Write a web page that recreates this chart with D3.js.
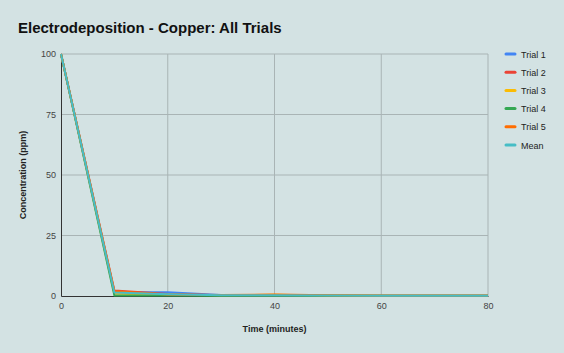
<!DOCTYPE html>
<html>
<head>
<meta charset="utf-8">
<script src="https://cdn.jsdelivr.net/npm/d3@7"></script>
<style>
  body { margin: 0; background: #d3e2e3; }
  svg { display: block; font-family: "Liberation Sans", Arial, sans-serif; }
</style>
</head>
<body>
<div id="chart"></div>
<script>
// times in minutes, concentration in ppm
var times = [0, 10, 20, 30, 40, 50, 60, 70, 80];
var trial1 = [100, 1.6, 1.5, 0.4, 0.2, 0.1, 0.1, 0.1, 0.1];
var trial2 = [100, 2.3, 0.8, 0.3, 0.2, 0.1, 0.1, 0.1, 0.1];
var trial3 = [100, 1.0, 0.5, 0.3, 0.5, 0.2, 0.1, 0.1, 0.1];
var trial4 = [100, 0.2, 0.2, 0.1, 0.1, 0.1, 0.1, 0.1, 0.1];
var trial5 = [100, 2.0, 0.6, 0.4, 0.6, 0.3, 0.1, 0.1, 0.1];
var mean = [100, 1.4, 0.7, 0.3, 0.3, 0.2, 0.1, 0.1, 0.1];
var seriesNames = ['Trial 1', 'Trial 2', 'Trial 3', 'Trial 4', 'Trial 5', 'Mean'];
var xTicks = [0, 20, 40, 60, 80];
var yTicks = [0, 25, 50, 75, 100];

var series = [trial1, trial2, trial3, trial4, trial5, mean].map(function(vals, i) {
  return { name: seriesNames[i], values: vals.map(function(v, j) { return { t: times[j], c: v }; }) };
});

var width = 564, height = 353;
var color = d3.scaleOrdinal()
  .domain(seriesNames)
  .range(['#4285f4', '#ea4335', '#fbbc04', '#34a853', '#ff6d01', '#46bdc6']);

var x = d3.scaleLinear().domain([0, 80]).range([61, 488]);
var y = d3.scaleLinear().domain([0, 100]).range([296, 54]);

var svg = d3.select('#chart').append('svg')
  .attr('width', width)
  .attr('height', height);

svg.append('rect')
  .attr('width', width).attr('height', height)
  .attr('fill', '#d3e2e3');

svg.append('text')
  .attr('x', 18).attr('y', 33)
  .attr('font-size', 15).attr('font-weight', 'bold')
  .attr('fill', '#111')
  .text('Electrodeposition - Copper: All Trials');

// grid
var grid = svg.append('g');
grid.selectAll('.gy').data(yTicks.slice(1)).enter().append('line')
  .attr('x1', x(0)).attr('x2', x(80))
  .attr('y1', function(d) { return y(d); }).attr('y2', function(d) { return y(d); })
  .attr('stroke', '#a9b4b5').attr('stroke-width', 1);
grid.selectAll('.gx').data(xTicks.slice(1)).enter().append('line')
  .attr('y1', y(0)).attr('y2', y(100))
  .attr('x1', function(d) { return x(d); }).attr('x2', function(d) { return x(d); })
  .attr('stroke', '#a9b4b5').attr('stroke-width', 1);

// axes
var xAxis = svg.append('g')
  .attr('transform', 'translate(0,' + y(0) + ')')
  .call(d3.axisBottom(x).tickValues(xTicks).tickSize(0).tickPadding(7));
var yAxis = svg.append('g')
  .attr('transform', 'translate(' + x(0) + ',0)')
  .call(d3.axisLeft(y).tickValues(yTicks).tickSize(0).tickPadding(5));
[xAxis, yAxis].forEach(function(a) {
  a.select('.domain').attr('stroke', '#333');
  a.selectAll('text').attr('font-size', 9).attr('fill', '#444')
    .attr('font-family', '"Liberation Sans", Arial, sans-serif');
});

svg.append('text')
  .attr('x', (x(0) + x(80)) / 2).attr('y', 332)
  .attr('text-anchor', 'middle')
  .attr('font-size', 9).attr('font-weight', 'bold').attr('fill', '#222')
  .text('Time (minutes)');

svg.append('text')
  .attr('transform', 'translate(26,' + ((y(0) + y(100)) / 2) + ') rotate(-90)')
  .attr('text-anchor', 'middle')
  .attr('font-size', 9).attr('font-weight', 'bold').attr('fill', '#222')
  .text('Concentration (ppm)');

// lines
var line = d3.line()
  .x(function(d) { return x(d.t); })
  .y(function(d) { return y(d.c); });

svg.append('g').selectAll('path')
  .data(series)
  .enter().append('path')
  .attr('d', function(d) { return line(d.values); })
  .attr('fill', 'none')
  .attr('stroke', function(d) { return color(d.name); })
  .attr('stroke-width', 2)
  .attr('stroke-linejoin', 'round');

// legend
var legend = svg.append('g').selectAll('g')
  .data(seriesNames)
  .enter().append('g')
  .attr('transform', function(d, i) { return 'translate(506,' + (54 + i * 18.2) + ')'; });
legend.append('line')
  .attr('x1', 0).attr('x2', 9)
  .attr('stroke', function(d) { return color(d); })
  .attr('stroke-width', 3).attr('stroke-linecap', 'round');
legend.append('text')
  .attr('x', 15).attr('y', 3.5)
  .attr('font-size', 9).attr('fill', '#222')
  .text(function(d) { return d; });
</script>
</body>
</html>
